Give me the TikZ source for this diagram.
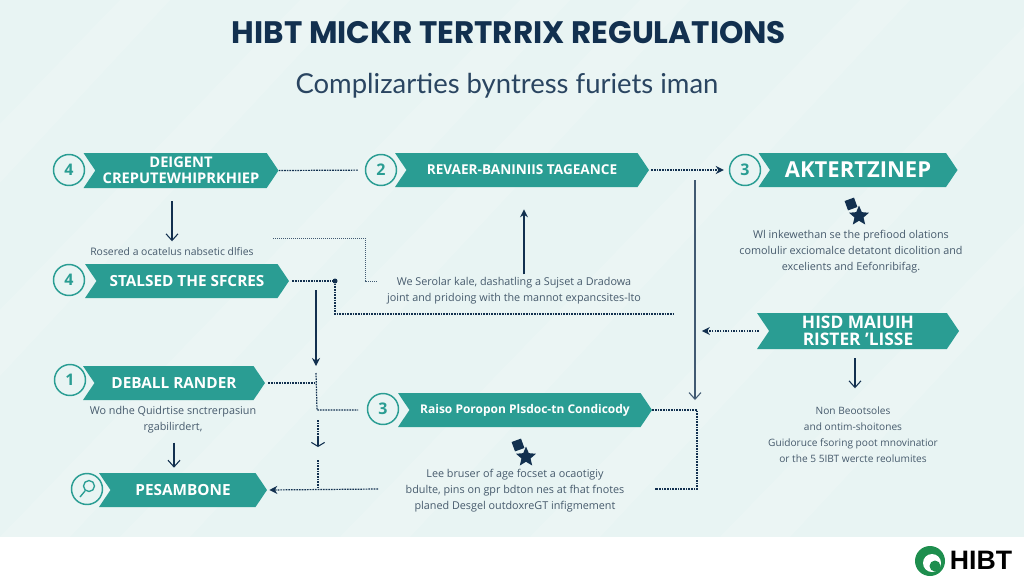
\documentclass[tikz,border=0pt]{standalone}
\usepackage{fontspec}
\setmainfont{Open Sans}
\newfontfamily\titlefont{Poppins}
\newfontfamily\subfont{Lato}
\newfontfamily\logofont{Liberation Sans}
\usetikzlibrary{shapes.symbols,shapes.geometric,arrows.meta}
\definecolor{tealbar}{HTML}{2A9D93}
\definecolor{navy}{HTML}{12304F}
\definecolor{bodygray}{HTML}{465A6C}
\definecolor{paper}{HTML}{E8F4F3}
\definecolor{logogreen}{HTML}{1E8E4E}
\newlength{\s}
\setlength{\s}{0.75pt}	%one reference pixel
\tikzset{
    banner/.style={signal,signal to=east,signal from=west,signal pointer angle=112,fill=tealbar,text=white,
        inner sep=0pt,align=center,font=\fontsize{11.5}{12}\selectfont\bfseries},
    badge/.style={circle,draw=tealbar,line width=1.1pt,fill=paper,minimum size=31*\s,inner sep=0pt,
        text=tealbar,font=\fontsize{12}{12}\selectfont\bfseries},
    note/.style={text=bodygray,align=center,font=\fontsize{8.1}{12}\selectfont,inner sep=0pt},
    dotline/.style={navy,line width=0.9pt,dash pattern=on 1.2pt off 0.8pt},
    fineline/.style={navy!80,line width=0.6pt,dash pattern=on 1pt off 0.5pt},
    bigarrow/.style={navy,line width=0.9pt,-{Stealth[length=6pt,width=6pt]}},
    openarrow/.style={navy,line width=0.8pt,-{Straight Barb[length=5pt,width=9pt]}},
    dotarrow/.style={dotline,-{Stealth[length=6pt,width=6pt,fill=navy]}},
    starmark/.style={star,star points=5,star point ratio=2.2,fill=navy,minimum size=21*\s,inner sep=0pt},
    flagmark/.style={rectangle,rotate=20,fill=navy,minimum size=10*\s,inner sep=0pt},
}
\begin{document}
\begin{tikzpicture}[x=\s,y=-\s]
    \useasboundingbox (0,0) rectangle (1024,576);
    % background and streaks
    \fill[paper] (0,0) rectangle (1024,537);
    \begin{scope}
        \clip (0,0) rectangle (1024,537);
        \foreach \x in {120,300,520,640,860,1050,1240}{
            \fill[white,opacity=.15] (\x,0) -- (\x+50,0) -- (\x-450,537) -- (\x-520,537) -- cycle;
        }
    \end{scope}
    % title
    \node[text=navy,font=\titlefont\fontsize{23.3}{24}\selectfont\bfseries,inner sep=0pt] (title) at (509,33) {HIBT MICKR TERTRRIX REGULATIONS};
    \node[text=navy!90,font=\subfont\fontsize{20.6}{24}\selectfont,inner sep=0pt] (subtitle) at (507,86) {Complizarties byntress furiets iman};
    % banners
    \node[banner,minimum width=195*\s,minimum height=35*\s,font=\fontsize{11}{12}\selectfont\bfseries] (deigent) at (181,170.5) {DEIGENT\\CREPUTEWHIPRKHIEP};
    \node[banner,minimum width=204*\s,minimum height=34*\s] (stalsed) at (187,281) {STALSED THE SFCRES};
    \node[banner,minimum width=182*\s,minimum height=34*\s] (deball) at (174,383) {DEBALL RANDER};
    \node[banner,minimum width=168*\s,minimum height=34*\s] (pesambone) at (183,490) {PESAMBONE};
    \node[banner,minimum width=254*\s,minimum height=34*\s,font=\fontsize{10.2}{12}\selectfont\bfseries] (revaer) at (522,170) {REVAER-BANINIIS TAGEANCE};
    \node[banner,minimum width=254*\s,minimum height=34*\s,font=\fontsize{9}{12}\selectfont\bfseries] (raiso) at (525,410) {Raiso Poropon Plsdoc-tn Condicody};
    \node[banner,minimum width=199*\s,minimum height=34*\s,font=\fontsize{16.5}{12}\selectfont\bfseries] (aktert) at (858,170) {AKTERTZINEP};
    \node[banner,minimum width=202*\s,minimum height=36*\s,font=\fontsize{13}{12.5}\selectfont\bfseries] (hisd) at (858,331) {HISD MAIUIH\\RISTER 'LISSE};
    % badges
    \node[badge] (b1) at (69,170) {4};
    \node[badge] (b2) at (69,280) {4};
    \node[badge] (b3) at (70,380) {1};
    \node[badge] (b4) at (87,489) {};
    \node[badge] (b5) at (381,170) {2};
    \node[badge] (b6) at (383,409) {3};
    \node[badge] (b7) at (745,170) {3};
    \draw[tealbar,line width=1pt] (89,486) circle (5.5) (85,491) -- (80,497);
    % stars
    \node[starmark] (star1) at (859,216) {};
    \node[flagmark] (flag1) at (851,204) {};
    \node[starmark] (star2) at (526,457) {};
    \node[flagmark] (flag2) at (518,445) {};
    % notes
    \node[note,font=\fontsize{7.8}{12}\selectfont] (n1) at (172,252) {Rosered a ocatelus nabsetic dlfies};
    \node[note] (n2) at (173,420) {Wo ndhe Quidrtise snctrerpasiun\\rgabilirdert,};
    \node[note] (n3) at (514,291) {We Serolar kale, dashatling a Sujset a Dradowa\\joint and pridoing with the mannot expancsites-lto};
    \node[note] (n4) at (515,491) {Lee bruser of age focset a ocaotigiy\\bdulte, pins on gpr bdton nes at fhat fnotes\\planed Desgel outdoxreGT infigmement};
    \node[note] (n5) at (851,252) {Wl inkewethan se the prefiood olations\\comolulir exciomalce detatont dicolition and\\excelients and Eefonribifag.};
    \node[note,font=\fontsize{7.6}{12}\selectfont] (n6) at (853,435) {Non Beootsoles\\and ontim-shoitones\\Guidoruce fsoring poot mnovinatior\\or the 5 5IBT wercte reolumites};
    % junction points
    \coordinate (j1) at (273,238);
    \coordinate (j2) at (365,238);
    \coordinate (j3) at (365,281);
    \coordinate (j4) at (378,281);
    \coordinate (j5) at (335,281);
    \coordinate (j6) at (335,314);
    \coordinate (j7) at (673,314);
    \coordinate (j8) at (316,290);
    \coordinate (j9) at (316,366);
    \coordinate (j10) at (316,373);
    \coordinate (j11) at (317,410);
    \coordinate (j12) at (358,410);
    \coordinate (j13) at (318,460);
    \coordinate (j14) at (318,489);
    \coordinate (j15) at (378,489);
    \coordinate (j16) at (695,180);
    \coordinate (j17) at (695,400);
    \coordinate (j18) at (697,410);
    \coordinate (j19) at (697,489);
    \coordinate (j20) at (655,489);
    \coordinate (j21) at (316,383);
    \coordinate (j22) at (318,420);
    \coordinate (j23) at (318,436);
    \coordinate (j24) at (318,447);
    % connectors
    \draw[dotline,shorten >=7*\s] (deigent.east) -- (b5);
    \draw[dotarrow,shorten <=2*\s,shorten >=5*\s] (revaer.east) -- (b7);
    \draw[openarrow] (deigent.south) ++(-9,13) coordinate (a1) -- ++(0,40) coordinate (a2);
    \draw[fineline] (j1) -- (j2) -- (j3) -- (j4);
    \draw[dotline,shorten <=3*\s] (stalsed.east) -- (j5) -- (j6) -- (j7);
    \fill[navy] (j5) circle (2.5);
    \draw[bigarrow] (j8) -- (j9);
    \draw[dotline] (j10) -- (j11) -- (j12);
    \draw[dotline,shorten <=3*\s] (deball.east) -- (j21);
    \draw[dotline] (j22) -- (j23);
    \draw[navy,line width=0.8pt,-{Straight Barb[length=3pt,width=10pt]}] (j23) -- (j24);
    \draw[dotline] (j13) -- (j14);
    \draw[dotarrow,shorten >=2*\s] (j15) -- (pesambone.east);
    \draw[bigarrow] (n3.north -| revaer.south) ++(2,-3) coordinate (a3) -- ++(0,-65) coordinate (a4);
    \draw[openarrow,navy!80] (j16) -- (j17);
    \draw[dotline] (raiso.east) -- (j18) -- (j19) -- (j20);
    \draw[dotarrow] (hisd.west) ++(-10,0) coordinate (a5) -- ++(-57,0) coordinate (a6);
    \draw[openarrow] (hisd.south) ++(-3,9) coordinate (a7) -- ++(0,30) coordinate (a8);
    \draw[openarrow] (n2.south) ++(1,9) coordinate (a9) -- ++(0,25) coordinate (a10);
    % logo
    \fill[logogreen] (930,561) circle (15);
    \fill[white] (932,563) circle (9);
    \fill[logogreen] (935,566) circle (5.5);
    \node[text=black,font=\logofont\fontsize{20}{20}\selectfont\bfseries,inner sep=0pt] (logo) at (981,560.5) {HIBT};
\end{tikzpicture}
\end{document}
